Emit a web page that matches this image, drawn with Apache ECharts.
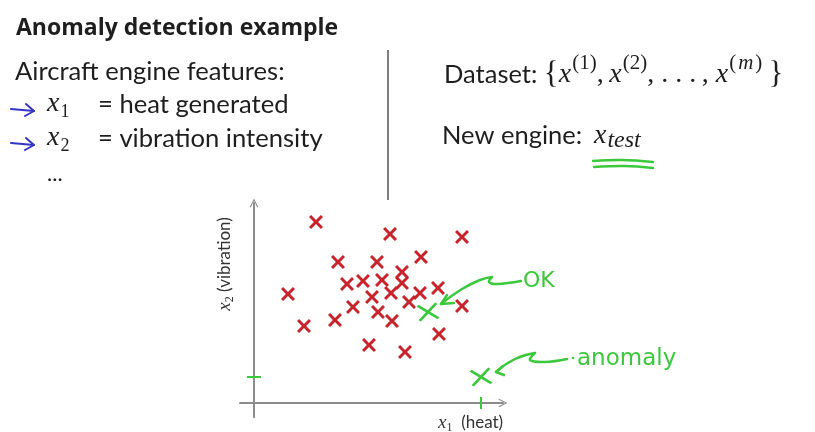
<!DOCTYPE html>
<html>
<head>
<meta charset="utf-8">
<script src="https://cdn.jsdelivr.net/npm/echarts@6/dist/echarts.min.js"></script>
<style>html,body{margin:0;padding:0;background:#fff}#c{width:815px;height:432px}</style>
</head>
<body>
<div id="c"></div>
<script>
// Training examples (x1 = heat, x2 = vibration), arbitrary units
const normalX = [2.48, 5.44, 8.32, 3.36, 4.92, 6.68, 5.92, 3.72, 4.36, 5.12, 5.92, 1.36, 4.72, 5.48, 6.64, 7.36, 3.96, 6.20, 8.32, 4.96, 5.52, 3.24, 2.00, 7.40, 4.60, 6.04];
const normalY = [7.24, 6.76, 6.64, 5.64, 5.64, 5.84, 5.24, 4.76, 4.88, 4.92, 4.80, 4.36, 4.24, 4.40, 4.40, 4.60, 3.84, 4.04, 3.88, 3.64, 3.28, 3.32, 3.08, 2.76, 2.32, 2.04];
// New engines x_test
const testNames = ['OK', 'anomaly'];
const testX = [6.96, 9.08];
const testY = [3.64, 1.04];
// Axis extents
const X_MIN = -0.56, X_MAX = 9.96;
const Y_MIN = -0.56, Y_MAX = 8.0;

const RED = '#c8232b', GREEN = '#3cc83c', BLUE = '#3434c8', INK = '#1e1e1e', AXIS = '#8c8c8c';
const X_PATH = 'path://M0,1.5 L1.5,0 L5,3.5 L8.5,0 L10,1.5 L6.5,5 L10,8.5 L8.5,10 L5,6.5 L1.5,10 L0,8.5 L3.5,5 Z';
const X_THIN = 'path://M0,1 L1,0 L5,4 L9,0 L10,1 L6,5 L10,9 L9,10 L5,6 L1,10 L0,9 L4,5 Z';
const CHEV = 'path://M0,10 L5,0 L10,10 L8.8,10.6 L5,2.6 L1.2,10.6 Z';

const SANS = 'Lato, "Open Sans", sans-serif';
const TITLE = '"Open Sans", Lato, sans-serif';
const SERIF = '"Liberation Serif", "DejaVu Serif", serif';
const HAND = '"DejaVu Sans", sans-serif';

const chart = echarts.init(document.getElementById('c'), null, {renderer: 'canvas'});

function txt(x, y, text, font, fill, extra) {
  return {type: 'text', silent: true, style: Object.assign({x: x, y: y, text: text, font: font, fill: fill || INK, verticalAlign: 'middle'}, extra || {})};
}
function pl(points, stroke, w, smooth) {
  return {type: 'polyline', silent: true, shape: {points: points, smooth: smooth || 0}, style: {stroke: stroke, lineWidth: w || 2, fill: null, lineCap: 'round', lineJoin: 'round'}};
}

// subscript styles
const subRich = {
  m: {fontFamily: SERIF, fontStyle: 'italic', fontSize: 28, fill: INK, lineHeight: 34},
  sub: {fontFamily: SERIF, fontSize: 18, fill: INK, verticalAlign: 'bottom', lineHeight: 24, padding: [0, 0, 0, 1]},
  subi: {fontFamily: SERIF, fontStyle: 'italic', fontSize: 24, fill: INK, verticalAlign: 'bottom', lineHeight: 27, padding: [0, 0, 0, 1]}
};
// superscript styles
const supRich = {
  t: {fontFamily: SANS, fontSize: 25.5, fill: INK, lineHeight: 44},
  b: {fontFamily: SERIF, fontSize: 31, fill: INK, lineHeight: 44},
  m: {fontFamily: SERIF, fontStyle: 'italic', fontSize: 28, fill: INK, lineHeight: 44},
  c: {fontFamily: SERIF, fontSize: 28, fill: INK, lineHeight: 44},
  sup: {fontFamily: SERIF, fontSize: 21, fill: INK, verticalAlign: 'top', lineHeight: 24, padding: [0, 0, 0, 1]},
  supi: {fontFamily: SERIF, fontStyle: 'italic', fontSize: 21, fill: INK, verticalAlign: 'top', lineHeight: 24, padding: [0, 1, 0, 2]}
};
const axisRich = {
  m: {fontFamily: SERIF, fontStyle: 'italic', fontSize: 19, fill: '#333', lineHeight: 22},
  sub: {fontFamily: SERIF, fontSize: 12, fill: '#333', verticalAlign: 'bottom', lineHeight: 16},
  n: {fontFamily: SANS, fontSize: 17, fill: '#333', lineHeight: 22}
};

const graphics = [
  txt(16, 28, 'Anomaly detection example', 'bold 23px ' + TITLE),
  txt(15, 72, 'Aircraft engine features:', '25.6px ' + SANS),
  {type: 'text', silent: true, style: {x: 47, y: 104, text: '{m|x}{sub|1}', rich: subRich, verticalAlign: 'middle'}},
  txt(98, 105, '= heat generated', '25.6px ' + SANS),
  {type: 'text', silent: true, style: {x: 47, y: 138, text: '{m|x}{sub|2}', rich: subRich, verticalAlign: 'middle'}},
  txt(98, 139, '= vibration intensity', '25.6px ' + SANS),
  txt(47, 174, '...', '22px ' + SANS),
  // blue hand-drawn arrows
  pl([[11, 109], [34, 111]], BLUE, 2),
  pl([[26, 104], [34, 111], [25, 116]], BLUE, 2),
  pl([[11, 143], [34, 145]], BLUE, 2),
  pl([[26, 138], [34, 145], [25, 150]], BLUE, 2),
  // divider
  {type: 'line', silent: true, shape: {x1: 388, y1: 50, x2: 388, y2: 200}, style: {stroke: '#555', lineWidth: 1.5}},
  // right column
  {type: 'text', silent: true, style: {x: 444, y: 75, verticalAlign: 'middle', font: '31px ' + SERIF, fill: INK,
    text: '{t|Dataset: }{b|{}{m|x}{sup|(1)}{c|,\u2009}{m|x}{sup|(2)}{c|, . . .\u2009, }{m|x}{sup|(}{supi|m}{sup|)}\u2009}', rich: supRich}},
  txt(442, 136, 'New engine:', '25.5px ' + SANS),
  {type: 'text', silent: true, style: {x: 594, y: 136, text: '{m|x}{subi|test}', rich: subRich, verticalAlign: 'middle'}},
  pl([[593, 161], [622, 160], [653, 162]], GREEN, 2.4, 0.4),
  pl([[594, 167], [625, 166], [653, 168]], GREEN, 2.4, 0.4),
  // axis names
  {type: 'text', silent: true, style: {x: 438, y: 423, text: '{m|x}{sub|1}{n|  (heat)}', verticalAlign: 'middle', rich: axisRich}},
  {type: 'text', silent: true, x: 225, y: 264, rotation: Math.PI / 2,
    style: {x: 0, y: 0, text: '{m|x}{sub|2}{n| (vibration)}', align: 'center', verticalAlign: 'middle', rich: axisRich}},
  // hand-drawn annotations
  pl([[441, 304], [462, 289], [480, 280], [492, 277]], GREEN, 2.5, 0.5),
  pl([[492, 277], [489, 282], [497, 284], [521, 281]], GREEN, 2.5, 0.4),
  pl([[447, 295], [441, 304], [454, 303]], GREEN, 2.5),
  txt(523, 281, testNames[0], '22px ' + HAND, GREEN),
  pl([[496, 372], [515, 359], [535, 353]], GREEN, 2.5, 0.5),
  pl([[535, 353], [530, 360], [545, 362], [567, 359]], GREEN, 2.5, 0.4),
  pl([[503, 366], [496, 372], [504, 375]], GREEN, 2.5),
  {type: 'circle', silent: true, shape: {cx: 573, cy: 358, r: 1.3}, style: {fill: GREEN}},
  txt(577, 359, testNames[1], '23px ' + HAND, GREEN)
];

const option = {
  animation: false,
  backgroundColor: '#ffffff',
  grid: {left: 240, top: 203, width: 263, height: 214, containLabel: false},
  xAxis: {type: 'value', min: X_MIN, max: X_MAX,
    axisLine: {onZero: true, lineStyle: {color: AXIS, width: 2}, symbol: ['none', CHEV], symbolSize: [11, 9]},
    axisTick: {show: false}, axisLabel: {show: false}, splitLine: {show: false}},
  yAxis: {type: 'value', min: Y_MIN, max: Y_MAX,
    axisLine: {onZero: true, lineStyle: {color: AXIS, width: 2}, symbol: ['none', CHEV], symbolSize: [11, 9]},
    axisTick: {show: false}, axisLabel: {show: false}, splitLine: {show: false}},
  series: [
    {type: 'scatter', silent: true, symbol: X_PATH, symbolSize: 14, itemStyle: {color: RED, opacity: 1},
      data: normalX.map((x, i) => [x, normalY[i]]), z: 3},
    {type: 'scatter', silent: true, symbol: X_THIN, symbolSize: [21, 17], symbolRotate: 8, itemStyle: {color: GREEN, opacity: 1},
      data: testX.map((x, i) => [x, testY[i]]), z: 4},
    // projections of the anomaly onto the axes
    {type: 'scatter', silent: true, symbol: 'rect', symbolSize: [2, 12], itemStyle: {color: GREEN, opacity: 1},
      data: [[testX[1], 0]], z: 4},
    {type: 'scatter', silent: true, symbol: 'rect', symbolSize: [14, 2], itemStyle: {color: GREEN, opacity: 1},
      data: [[0, testY[1]]], z: 4}
  ],
  graphic: graphics
};
chart.setOption(option);
</script>
</body>
</html>
